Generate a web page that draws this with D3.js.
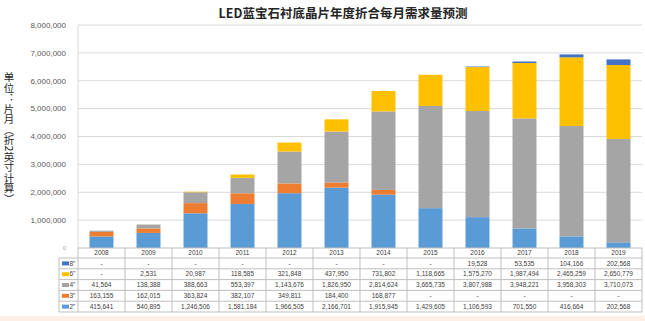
<!DOCTYPE html>
<html>
<head>
<meta charset="utf-8">
<script src="https://cdn.jsdelivr.net/npm/d3@7"></script>
<style>
  body { margin: 0; background: #fff; }
  text { font-family: "Liberation Sans", Arial, sans-serif; }
</style>
</head>
<body>
<div id="chart"></div>
<script>
// chart values
var years = ["2008","2009","2010","2011","2012","2013","2014","2015","2016","2017","2018","2019"];
var keys = ["2\"","3\"","4\"","6\"","8\""];          // bottom -> top
var tableKeys = ["8\"","6\"","4\"","3\"","2\""];     // table rows, top -> bottom
var inch2 = [415641, 540895, 1246506, 1581184, 1966505, 2166701, 1915945, 1429605, 1106593, 701550, 416664, 202568];
var inch3 = [163155, 162015, 363824, 382107, 349811, 184400, 168877, null, null, null, null, null];
var inch4 = [41564, 138388, 388663, 553397, 1143676, 1826950, 2814624, 3665735, 3807988, 3948221, 3958303, 3710073];
var inch6 = [null, 2531, 20987, 118585, 321848, 437950, 731802, 1118665, 1575270, 1987494, 2465259, 2650779];
var inch8 = [null, null, null, null, null, null, null, null, 19528, 53535, 104166, 202568];
var yTicks = [1000000, 2000000, 3000000, 4000000, 5000000, 6000000, 7000000, 8000000];

var colors = {"2\"": "#5b9bd5", "3\"": "#ed7d31", "4\"": "#a5a5a5", "6\"": "#ffc000", "8\"": "#4472c4"};
var seriesVals = {"2\"": inch2, "3\"": inch3, "4\"": inch4, "6\"": inch6, "8\"": inch8};

var W = 645, H = 321;
var plot = {left: 78, right: 642, top: 25, bottom: 248};

var data = years.map(function(y, i) {
  var d = {year: y};
  keys.forEach(function(k) { d[k] = seriesVals[k][i] || 0; });
  return d;
});

var x = d3.scaleBand()
    .domain(years)
    .range([plot.left, plot.right])
    .paddingInner(0)
    .paddingOuter(0);
var y = d3.scaleLinear()
    .domain([0, 8000000])
    .range([plot.bottom, plot.top]);

var svg = d3.select("#chart").append("svg")
    .attr("width", W)
    .attr("height", H);

// bottom strip
svg.append("rect")
    .attr("x", 0).attr("y", 316)
    .attr("width", W).attr("height", 5)
    .style("fill", "#fcefe3");

// gridlines
svg.append("g")
    .selectAll("line")
    .data(yTicks)
  .enter().append("line")
    .attr("x1", plot.left).attr("x2", plot.right)
    .attr("y1", function(d) { return y(d); })
    .attr("y2", function(d) { return y(d); })
    .style("stroke", "#d9d9d9")
    .style("stroke-width", 1);

// y tick labels
svg.append("g")
    .selectAll("text")
    .data(yTicks)
  .enter().append("text")
    .attr("x", 66)
    .attr("y", function(d) { return y(d); })
    .attr("dy", "0.35em")
    .attr("text-anchor", "end")
    .style("font-size", "8px")
    .style("fill", "#595959")
    .text(d3.format(","));
svg.append("text")
    .attr("x", 66).attr("y", y(0)).attr("dy", "0.35em")
    .attr("text-anchor", "end")
    .style("font-size", "6px")
    .style("fill", "#a0a0a0")
    .text("0");

// y axis line
svg.append("line")
    .attr("x1", plot.left).attr("x2", plot.left)
    .attr("y1", plot.top).attr("y2", plot.bottom)
    .style("stroke", "#d9d9d9");

// stacked bars
var stack = d3.stack().keys(keys);
var layers = stack(data);
var barW = x.bandwidth() * 0.51;

svg.append("g")
    .selectAll("g")
    .data(layers)
  .enter().append("g")
    .style("fill", function(d) { return colors[d.key]; })
  .selectAll("rect")
    .data(function(d) { return d; })
  .enter().append("rect")
    .attr("x", function(d) { return x(d.data.year) + (x.bandwidth() - barW) / 2; })
    .attr("width", barW)
    .attr("y", function(d) { return y(d[1]); })
    .attr("height", function(d) { return y(d[0]) - y(d[1]); });

// data table
var tableTop = 258, tableBottom = 312, tableLeft = 59;
var row = d3.scaleBand()
    .domain(tableKeys)
    .range([tableTop, tableBottom]);
var lineColor = "#bfbfbf";
var tbl = svg.append("g");

// x axis / table top
tbl.append("line")
    .attr("x1", plot.left).attr("x2", plot.right)
    .attr("y1", plot.bottom).attr("y2", plot.bottom)
    .style("stroke", lineColor);

// horizontal lines
tbl.selectAll(".hline")
    .data(tableKeys)
  .enter().append("line")
    .attr("class", "hline")
    .attr("x1", tableLeft).attr("x2", plot.right)
    .attr("y1", function(d) { return row(d); })
    .attr("y2", function(d) { return row(d); })
    .style("stroke", lineColor);
tbl.append("line")
    .attr("x1", tableLeft).attr("x2", plot.right)
    .attr("y1", tableBottom).attr("y2", tableBottom)
    .style("stroke", lineColor);

// vertical lines
var bounds = years.map(function(d) { return x(d); }).concat([plot.right]);
tbl.selectAll(".vline")
    .data(bounds)
  .enter().append("line")
    .attr("class", "vline")
    .attr("x1", function(d) { return d; }).attr("x2", function(d) { return d; })
    .attr("y1", plot.bottom).attr("y2", tableBottom)
    .style("stroke", lineColor);
tbl.append("line")
    .attr("x1", tableLeft).attr("x2", tableLeft)
    .attr("y1", tableTop).attr("y2", tableBottom)
    .style("stroke", lineColor);

// year headers
tbl.selectAll(".yr")
    .data(years)
  .enter().append("text")
    .attr("class", "yr")
    .attr("x", function(d) { return x(d) + x.bandwidth() / 2; })
    .attr("y", (plot.bottom + tableTop) / 2)
    .attr("dy", "0.35em")
    .attr("text-anchor", "middle")
    .style("font-size", "6.5px")
    .style("fill", "#404040")
    .text(function(d) { return d; });

// legend keys
tbl.selectAll(".key")
    .data(tableKeys)
  .enter().append("rect")
    .attr("class", "key")
    .attr("x", tableLeft + 3)
    .attr("y", function(d) { return row(d) + row.bandwidth() / 2 - 2; })
    .attr("width", 7).attr("height", 4)
    .style("fill", function(d) { return colors[d]; });
tbl.selectAll(".keylab")
    .data(tableKeys)
  .enter().append("text")
    .attr("class", "keylab")
    .attr("x", tableLeft + 10.5)
    .attr("y", function(d) { return row(d) + row.bandwidth() / 2; })
    .attr("dy", "0.35em")
    .style("font-size", "6.5px")
    .style("fill", "#404040")
    .text(function(d) { return d; });

// cell values
var fmt = d3.format(",");
tableKeys.forEach(function(k) {
  tbl.append("g")
    .selectAll("text")
    .data(seriesVals[k])
  .enter().append("text")
    .attr("x", function(d, i) { return x(years[i]) + x.bandwidth() / 2; })
    .attr("y", row(k) + row.bandwidth() / 2)
    .attr("dy", "0.35em")
    .attr("text-anchor", "middle")
    .style("font-size", "6.5px")
    .style("fill", "#404040")
    .text(function(d) { return d == null ? "-" : fmt(d); });
});

// title
svg.append("text")
    .attr("x", 343)
    .attr("y", 14)
    .attr("dy", "0.35em")
    .attr("text-anchor", "middle")
    .style("font-family", "'Noto Sans CJK SC', sans-serif")
    .style("font-weight", "bold")
    .style("font-size", "12.5px")
    .style("fill", "#262626")
    .text("LED蓝宝石衬底晶片年度折合每月需求量预测");

// y label, vertical stacked characters
var yLabel = "单位：片月（折2英寸计算）".split("");
svg.append("text")
    .attr("x", 9)
    .attr("y", 72)
    .attr("writing-mode", "vertical-rl")
    .style("font-family", "'Noto Sans CJK SC', sans-serif")
    .style("font-size", "10.5px")
    .style("fill", "#262626")
    .text(yLabel.join(""));
</script>
</body>
</html>
